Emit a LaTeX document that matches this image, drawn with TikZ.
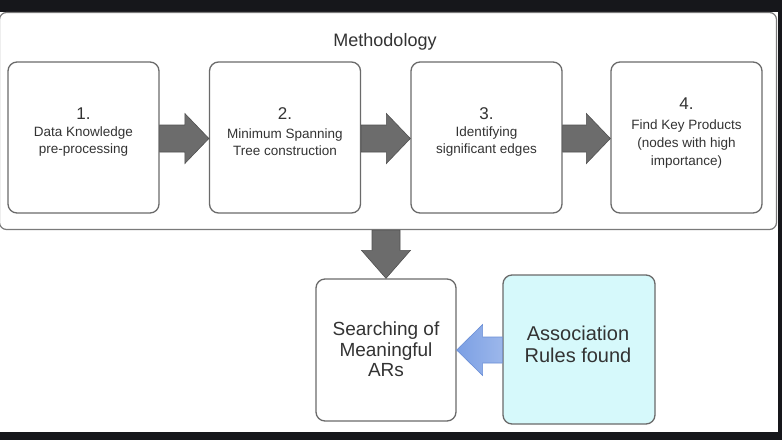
\documentclass[tikz,border=0pt]{standalone}
\usepackage{fontspec}
\setmainfont{Liberation Sans}
\usetikzlibrary{calc}
\definecolor{bgdark}{HTML}{16171B}
\definecolor{boxline}{HTML}{6A6A6A}
\definecolor{outerline}{HTML}{7A7A7A}
\definecolor{txt}{HTML}{333333}
\definecolor{arrowfill}{HTML}{6C6C6C}
\definecolor{arrowline}{HTML}{505050}
\definecolor{cyanfill}{HTML}{D6F9FB}
\definecolor{bluearrow}{HTML}{7B9FE4}
\definecolor{bluearrowline}{HTML}{6A8ED6}
\tikzset{
  outerbox/.style={draw=outerline, line width=1.2pt, rounded corners=7pt, fill=white,
    minimum width=777pt, minimum height=217pt, inner sep=0pt},
  stepbox/.style={draw=boxline, line width=1.3pt, rounded corners=9pt, fill=white,
    minimum width=151pt, minimum height=151pt, inner sep=0pt},
  lowbox/.style={draw=boxline, line width=1.3pt, rounded corners=9pt, fill=white,
    inner sep=0pt},
  numtxt/.style={text=txt, font=\fontsize{17}{20}\selectfont, inner sep=0pt},
  steptxt/.style={text=txt, align=center, inner sep=0pt},
  bigtxt/.style={text=txt, align=center, inner sep=0pt},
  grayarrow/.style={fill=arrowfill, draw=arrowline, line width=0.6pt, line join=miter},
  bluearr/.style={left color=bluearrow, right color=bluearrow!75!white, draw=bluearrowline, line width=0.6pt},
}
\begin{document}
\begin{tikzpicture}[x=1pt,y=-1pt]
\fill[bgdark] (0,0) rectangle (782,440);
\useasboundingbox (0,0) rectangle (782,440);
\fill[white] (0,12) rectangle (778,432);

\node[outerbox] (meth) at (388,121) {};
\node[bigtxt, font=\fontsize{18}{22}\selectfont] (methtitle) at (385,42) {Methodology};

\node[stepbox] (s1) at (83.5,137.5) {};
\node[stepbox] (s2) at (285,137.5) {};
\node[stepbox] (s3) at (486.5,137.5) {};
\node[stepbox] (s4) at (686.5,137.5) {};

\node[numtxt] (n1) at (83.5,114) {1.};
\node[steptxt, font=\fontsize{13.5}{17}\selectfont] (t1) at (83.5,142) {Data Knowledge\\pre-processing};
\node[numtxt] (n2) at (285,114) {2.};
\node[steptxt, font=\fontsize{13.5}{17}\selectfont] (t2) at (285,142) {Minimum Spanning\\Tree construction};
\node[numtxt] (n3) at (486.5,114) {3.};
\node[steptxt, font=\fontsize{13.5}{17}\selectfont] (t3) at (486.5,142) {Identifying\\significant edges};
\node[numtxt] (n4) at (686.5,104) {4.};
\node[steptxt, font=\fontsize{13.5}{18}\selectfont] (t4) at (686.5,144) {Find Key Products\\(nodes with high\\importance)};

\node[lowbox, minimum width=140pt, minimum height=142pt] (search) at (386,350) {};
\node[bigtxt, font=\fontsize{19}{20.5}\selectfont] (searchtxt) at (386,349.5) {Searching of\\Meaningful\\ARs};
\node[lowbox, fill=cyanfill, minimum width=152pt, minimum height=149pt] (assoc) at (579,349.5) {};
\node[bigtxt, font=\fontsize{20}{22}\selectfont] (assoctxt) at (578,344) {Association\\Rules found};

% horizontal gray arrows between steps
\foreach \a/\b in {s1/s2, s2/s3, s3/s4}{
  \draw[grayarrow] let \p1=(\a.east), \p2=(\b.west) in
    (\x1,\y1-1pt+13.5pt) -- (\x2-24pt,\y1-1pt+13.5pt) -- (\x2-24pt,\y1-1pt+25pt) --
    (\x2,\y1-1pt) -- (\x2-24pt,\y1-1pt-25pt) -- (\x2-24pt,\y1-1pt-13.5pt) --
    (\x1,\y1-1pt-13.5pt) -- cycle;
}

% down arrow from methodology to searching
\draw[grayarrow] let \p1=(search.north |- meth.south), \p2=(search.north) in
  (\x1-14pt,\y1) -- (\x1-14pt,\y2+28pt) -- (\x1-24.5pt,\y2+28pt) -- (\x2,\y2) --
  (\x1+24.5pt,\y2+28pt) -- (\x1+14pt,\y2+28pt) -- (\x1+14pt,\y1) -- cycle;

% blue arrow from association rules to searching
\draw[bluearr] let \p1=(assoc.west), \p2=(search.east) in
  (\x1,\y2+13pt) -- (\x2+26pt,\y2+13pt) -- (\x2+26pt,\y2+25.5pt) -- (\x2,\y2) --
  (\x2+26pt,\y2-25.5pt) -- (\x2+26pt,\y2-13pt) -- (\x1,\y2-13pt) -- cycle;
\end{tikzpicture}
\end{document}
